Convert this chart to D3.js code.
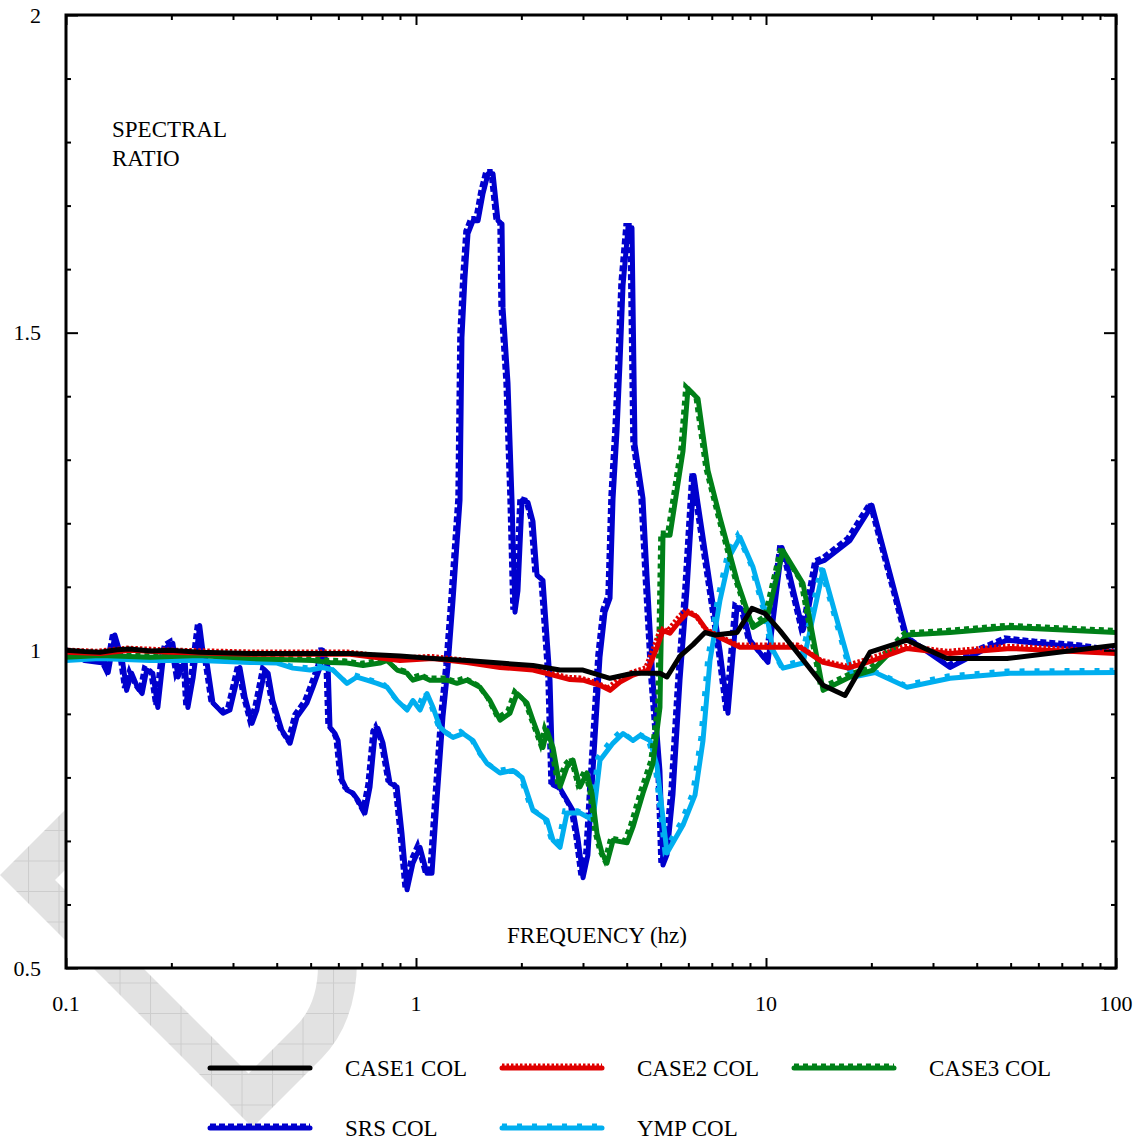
<!DOCTYPE html>
<html>
<head>
<meta charset="utf-8">
<script src="https://cdn.jsdelivr.net/npm/d3@7"></script>
<style>
  html, body { margin: 0; padding: 0; background: #fff; }
  svg { display: block; }
  text { font-family: "Liberation Serif", "Times New Roman", serif; fill: #000; }
</style>
</head>
<body>
<svg id="chart" width="1140" height="1144"></svg>
<script>
// ---------------- DATA ----------------
const seriesNames = ["CASE1 COL", "CASE2 COL", "CASE3 COL", "SRS COL", "YMP COL"];
const xTickLabels = ["0.1", "1", "10", "100"];
const yTickLabels = ["0.5", "1", "1.5", "2"];

const case1Freq  = [0.1,0.113,0.125,0.14,0.152,0.175,0.198,0.241,0.336,0.466,0.648,0.900,1.119,1.398,1.738,2.159,2.579,3.001,3.584,4.169,4.978,5.213,5.680,6.186,6.694,7.150,8.265,9.12,9.93,10.96,14.56,16.82,19.82,25.29,32.89,48.83,100];
const case1Ratio = [1.000,0.998,0.997,1.001,1.002,0.999,1.000,0.997,0.995,0.995,0.995,0.991,0.987,0.984,0.980,0.976,0.969,0.969,0.956,0.964,0.964,0.958,0.991,1.009,1.028,1.024,1.028,1.066,1.058,1.031,0.945,0.929,0.997,1.016,0.987,0.987,1.008];

const case2Freq  = [0.1,0.125,0.152,0.198,0.336,0.648,0.900,1.119,1.398,1.738,2.159,2.463,2.754,3.001,3.355,3.584,3.828,4.169,4.602,4.883,5.078,5.317,5.680,5.986,6.351,6.783,7.389,8.427,12.51,14.56,17.15,20.22,25.29,33.55,49.80,100];
const case2Ratio = [0.997,0.995,1.000,0.997,0.994,0.994,0.984,0.987,0.981,0.973,0.969,0.961,0.954,0.953,0.945,0.937,0.950,0.961,0.969,1.005,1.031,1.027,1.047,1.060,1.053,1.031,1.020,1.005,1.005,0.981,0.972,0.984,1.003,0.995,1.003,0.995];

const case3Freq  = [0.1,0.125,0.174,0.241,0.336,0.508,0.568,0.635,0.706,0.789,0.827,0.883,0.943,0.980,1.047,1.096,1.226,1.309,1.398,1.524,1.627,1.738,1.856,1.944,2.076,2.159,2.306,2.367,2.463,2.579,2.700,2.810,2.942,3.080,3.183,3.289,3.400,3.513,3.656,4.009,4.169,4.452,4.754,4.978,5.078,5.317,5.794,5.986,6.394,6.829,7.389,8.265,9.18,10.07,11.18,12.76,14.56,17.38,20.22,25.29,33.55,49.80,100];
const case3Ratio = [0.989,0.992,0.989,0.992,0.987,0.984,0.981,0.980,0.976,0.980,0.984,0.969,0.964,0.953,0.958,0.953,0.953,0.948,0.953,0.942,0.921,0.890,0.901,0.932,0.917,0.890,0.847,0.874,0.847,0.785,0.816,0.827,0.785,0.807,0.775,0.712,0.681,0.665,0.701,0.697,0.722,0.775,0.822,0.910,1.181,1.181,1.314,1.412,1.396,1.283,1.209,1.110,1.036,1.050,1.157,1.105,0.937,0.958,0.969,1.024,1.028,1.036,1.028];

const srsFreq  = [0.1,0.113,0.128,0.132,0.138,0.145,0.149,0.154,0.160,0.165,0.170,0.177,0.183,0.189,0.194,0.202,0.209,0.219,0.223,0.231,0.241,0.246,0.253,0.263,0.281,0.294,0.308,0.314,0.325,0.340,0.351,0.370,0.378,0.390,0.414,0.437,0.457,0.488,0.508,0.532,0.542,0.561,0.568,0.587,0.599,0.615,0.635,0.661,0.683,0.715,0.739,0.764,0.779,0.805,0.843,0.883,0.912,0.943,0.980,1.027,1.075,1.111,1.148,1.194,1.234,1.276,1.336,1.353,1.380,1.408,1.455,1.504,1.554,1.606,1.660,1.715,1.761,1.773,1.832,1.881,1.918,1.956,2.009,2.089,2.159,2.217,2.306,2.415,2.463,2.579,2.810,2.904,3.001,3.099,3.204,3.355,3.467,3.584,3.656,3.753,3.828,3.904,4.034,4.141,4.224,4.452,4.571,4.754,4.978,5.078,5.213,5.424,5.680,5.948,6.228,6.394,6.918,7.389,7.788,8.265,8.598,9.000,9.487,10.13,11.11,11.48,12.76,13.10,13.98,14.74,17.38,20.09,25.29,33.55,41.69,48.83,59.48,80.47,100];
const srsRatio = [1.000,0.984,0.980,0.965,1.024,0.984,0.937,0.964,0.942,0.932,0.969,0.964,0.910,0.980,1.005,1.011,0.958,0.984,0.910,0.958,1.039,1.000,0.980,0.917,0.901,0.906,0.953,0.973,0.926,0.885,0.906,0.969,0.964,0.921,0.874,0.854,0.895,0.917,0.942,0.973,1.000,0.973,0.879,0.869,0.858,0.796,0.780,0.775,0.764,0.744,0.785,0.869,0.877,0.854,0.791,0.785,0.712,0.623,0.665,0.690,0.649,0.649,0.764,0.895,0.973,1.079,1.236,1.492,1.586,1.656,1.676,1.676,1.719,1.750,1.750,1.676,1.671,1.539,1.420,1.236,1.060,1.094,1.236,1.233,1.203,1.118,1.110,0.953,0.788,0.783,0.748,0.703,0.642,0.678,0.810,0.989,1.060,1.082,1.239,1.346,1.453,1.574,1.665,1.665,1.324,1.239,1.118,0.953,0.810,0.662,0.678,0.774,0.953,1.096,1.275,1.231,1.105,1.000,0.901,1.068,1.063,1.016,1.000,0.981,1.162,1.137,1.031,1.052,1.137,1.142,1.173,1.228,1.020,0.973,1.000,1.016,1.011,1.005,0.997];

const ympFreq  = [0.1,0.125,0.174,0.241,0.336,0.401,0.445,0.498,0.542,0.579,0.635,0.678,0.724,0.774,0.827,0.883,0.943,0.980,1.027,1.075,1.119,1.171,1.226,1.276,1.362,1.455,1.524,1.595,1.738,1.893,2.009,2.159,2.367,2.463,2.579,2.700,2.942,3.204,3.355,3.656,3.904,4.169,4.365,4.663,4.883,5.213,5.794,6.268,6.607,6.918,7.389,7.889,8.427,9.18,10.07,10.47,11.18,12.76,14.56,16.27,17.73,20.49,25.29,33.55,49.80,100];
const ympRatio = [0.984,0.987,0.984,0.984,0.981,0.980,0.972,0.969,0.973,0.969,0.948,0.958,0.953,0.948,0.942,0.921,0.906,0.921,0.906,0.932,0.910,0.879,0.869,0.863,0.869,0.858,0.838,0.822,0.807,0.811,0.800,0.748,0.733,0.701,0.690,0.744,0.744,0.733,0.827,0.854,0.869,0.858,0.866,0.858,0.818,0.681,0.725,0.772,0.858,0.984,1.079,1.149,1.178,1.131,1.052,1.000,0.972,0.980,1.126,1.031,0.958,0.965,0.942,0.956,0.964,0.965];

const seriesFreqs  = [case1Freq, case2Freq, case3Freq, srsFreq, ympFreq];
const seriesRatios = [case1Ratio, case2Ratio, case3Ratio, srsRatio, ympRatio];

// ---------------- STYLE ----------------
const colors = ["#000000", "#e00000", "#008018", "#0000cd", "#00aeef"];
const dashes = [null, "2.5,2", "5,4", "6,3", "5,10"];
const drawOrder = [3, 4, 2, 1, 0];

const svg = d3.select("#chart");
const L = 66, R = 1116, T = 15, B = 968;

const x = d3.scaleLog().domain([0.1, 100]).range([L, R]);
const y = d3.scaleLinear().domain([0.5, 2]).range([B, T]);

// ---------------- WATERMARK ----------------
const defs = svg.append("defs");
const pat = defs.append("pattern").attr("id", "wmgrid").attr("patternUnits", "userSpaceOnUse")
  .attr("width", 30.5).attr("height", 30.5).attr("x", 28).attr("y", 830);
pat.append("rect").attr("width", 30.5).attr("height", 30.5).attr("fill", "#e2e2e2");
pat.append("path").attr("d", "M0,0.5H30.5M0.5,0V30.5").attr("stroke", "#cdcdcd").attr("stroke-width", 1);
svg.append("path")
  .attr("d", "M120,755 L0,875 L252.5,1127.5 L322,1058 Q357,1022 357,960 L357,900 L318,900 L318,965 Q318,1005 295,1027 L248.5,1073.5 L55,880 L180,755 Z")
  .attr("fill", "url(#wmgrid)");

// plot background (covers watermark)
svg.append("rect").attr("x", L).attr("y", T).attr("width", R - L).attr("height", B - T).attr("fill", "#fff");

defs.append("clipPath").attr("id", "plotclip").append("rect")
  .attr("x", L).attr("y", T).attr("width", R - L).attr("height", B - T);

// ---------------- LINES ----------------
const line = d3.line().x(d => x(d[0])).y(d => y(d[1]));
const g = svg.append("g").attr("clip-path", "url(#plotclip)");
drawOrder.forEach(i => {
  const pts = seriesFreqs[i].map((f, k) => [f, seriesRatios[i][k]]);
  g.append("path").datum(pts).attr("d", line)
    .attr("fill", "none").attr("stroke", colors[i]).attr("stroke-width", 5)
    .attr("stroke-linejoin", "round").attr("stroke-linecap", "round");
  if (dashes[i]) {
    g.append("path").datum(pts).attr("d", line)
      .attr("transform", "translate(-2.5,-2.5)")
      .attr("fill", "none").attr("stroke", colors[i]).attr("stroke-width", 4.5)
      .attr("stroke-dasharray", dashes[i]).attr("stroke-linejoin", "miter");
  }
});

// ---------------- AXES ----------------
const xMajor = [0.1, 1, 10, 100];
const xMinor = [];
[0.1, 1, 10].forEach(d => { for (let k = 2; k <= 9; k++) xMinor.push(d * k); });
const yMajor = [0.5, 1, 1.5, 2];
const yMinor = d3.range(6, 20).map(v => v / 10).filter(v => !yMajor.includes(v));

const axisG = svg.append("g");
axisG.append("g").attr("transform", `translate(0,${B})`)
  .call(d3.axisBottom(x).tickValues(xMinor).tickSize(-5).tickFormat(""));
axisG.append("g").attr("transform", `translate(0,${T})`)
  .call(d3.axisTop(x).tickValues(xMinor).tickSize(-5).tickFormat(""));
axisG.append("g").attr("transform", `translate(0,${B})`)
  .call(d3.axisBottom(x).tickValues(xMajor).tickSize(-10).tickFormat(""));
axisG.append("g").attr("transform", `translate(0,${T})`)
  .call(d3.axisTop(x).tickValues(xMajor).tickSize(-10).tickFormat(""));
axisG.append("g").attr("transform", `translate(${L},0)`)
  .call(d3.axisLeft(y).tickValues(yMinor).tickSize(-5).tickFormat(""));
axisG.append("g").attr("transform", `translate(${R},0)`)
  .call(d3.axisRight(y).tickValues(yMinor).tickSize(-5).tickFormat(""));
axisG.append("g").attr("transform", `translate(${L},0)`)
  .call(d3.axisLeft(y).tickValues(yMajor).tickSize(-12).tickFormat(""));
axisG.append("g").attr("transform", `translate(${R},0)`)
  .call(d3.axisRight(y).tickValues(yMajor).tickSize(-12).tickFormat(""));
axisG.selectAll(".domain").remove();
axisG.selectAll(".tick line").attr("stroke", "#000").attr("stroke-width", 2);

svg.append("rect").attr("x", L).attr("y", T).attr("width", R - L).attr("height", B - T)
  .attr("fill", "none").attr("stroke", "#000").attr("stroke-width", 3);

// tick labels
svg.append("g").selectAll("text").data(xMajor).join("text")
  .attr("x", d => x(d)).attr("y", 1011).attr("text-anchor", "middle")
  .attr("font-size", 22).text((d, i) => xTickLabels[i]);
svg.append("g").selectAll("text").data(yMajor).join("text")
  .attr("x", 41).attr("y", d => y(d) + 7.5).attr("text-anchor", "end")
  .attr("font-size", 22).text((d, i) => yTickLabels[i]);

// axis titles (inside plot)
svg.append("text").attr("x", 112).attr("y", 137).attr("font-size", 23).text("SPECTRAL");
svg.append("text").attr("x", 112).attr("y", 166).attr("font-size", 23).text("RATIO");
svg.append("text").attr("x", 597).attr("y", 943).attr("text-anchor", "middle").attr("font-size", 23).text("FREQUENCY (hz)");

// ---------------- LEGEND ----------------
const legendPos = [[208, 1068], [500, 1068], [792, 1068], [208, 1128], [500, 1128]];
seriesNames.forEach((name, i) => {
  const [lx, ly] = legendPos[i];
  const lg = svg.append("g");
  lg.append("line").attr("x1", lx + 2).attr("x2", lx + 102).attr("y1", ly).attr("y2", ly)
    .attr("stroke", colors[i]).attr("stroke-width", 5).attr("stroke-linecap", "round");
  if (dashes[i]) {
    lg.append("line").attr("x1", lx + 2).attr("x2", lx + 102).attr("y1", ly - 2.5).attr("y2", ly - 2.5)
      .attr("stroke", colors[i]).attr("stroke-width", 4).attr("stroke-dasharray", dashes[i]);
  }
  lg.append("text").attr("x", lx + 137).attr("y", ly + 8).attr("font-size", 23).text(name);
});
</script>
</body>
</html>
